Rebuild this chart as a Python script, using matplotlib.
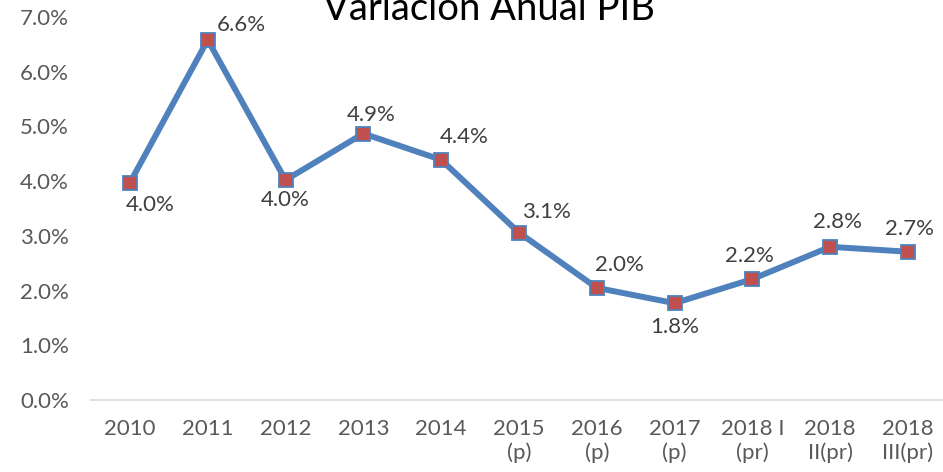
import matplotlib.pyplot as plt
from matplotlib.ticker import FuncFormatter

# data
periods = ['2010', '2011', '2012', '2013', '2014', '2015\n(p)', '2016\n(p)',
           '2017\n(p)', '2018 I\n(pr)', '2018\nII(pr)', '2018\nIII(pr)']
growth = [3.97, 6.58, 4.02, 4.87, 4.39, 3.06, 2.05, 1.77, 2.21, 2.80, 2.71]

# label offsets in pixels (dx, dy) relative to each marker
label_offsets = [(20, -22), (34, 15), (0, -20), (8, 19), (23, 23), (28, 21),
                 (23, 23), (0, -24), (-3, 23), (7, 25), (2, 23)]

plt.rcParams['font.family'] = ['Lato', 'DejaVu Sans']

fig = plt.figure(figsize=(9.43, 4.72), dpi=100)
ax = fig.add_axes([0.0965, 0.1525, 0.9035, 0.8115])

x = list(range(len(periods)))
ax.plot(x, growth, color='#4F81BD', linewidth=4.3, marker='s', markersize=10.5,
        markerfacecolor='#C0504D', markeredgecolor='#4F81BD', markeredgewidth=1.3,
        zorder=3)

for xi, yi, (dx, dy) in zip(x, growth, label_offsets):
    ax.annotate(f'{yi:.1f}%', (xi, yi), xytext=(dx * 0.72, dy * 0.72),
                textcoords='offset points', ha='center', va='center',
                fontsize=16, color='#404040')

ax.set_xlim(-0.5, 10.45)
ax.set_ylim(0, 7)
ax.set_yticks([0, 1, 2, 3, 4, 5, 6, 7])
ax.yaxis.set_major_formatter(FuncFormatter(lambda v, p: f'{v:.1f}%'))
ax.set_xticks(x)
ax.set_xticklabels(periods, linespacing=1.15)

for side in ['top', 'right', 'left']:
    ax.spines[side].set_visible(False)
ax.spines['bottom'].set_color('#D9D9D9')
ax.spines['bottom'].set_linewidth(1.2)
ax.tick_params(axis='both', length=0, labelsize=16, colors='#595959')
ax.tick_params(axis='y', pad=16)
ax.tick_params(axis='x', pad=14)

fig.text(0.518, 0.958, 'Variación Anual PIB', ha='center', va='baseline',
         fontsize=27.5, color='black')

fig.savefig('out.png', dpi=100)
